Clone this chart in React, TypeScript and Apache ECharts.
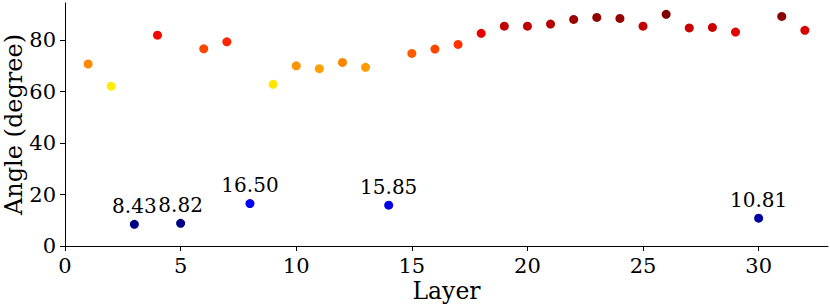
import React, { useEffect, useRef } from "react";
import * as echarts from "echarts";

const layers = [1,2,3,4,5,6,7,8,9,10,11,12,13,14,15,16,17,18,19,20,21,22,23,24,25,26,27,28,29,30,31,32];
const angles = [70.7,62.1,8.43,81.9,8.82,76.6,79.3,16.50,62.8,70.0,68.9,71.3,69.4,15.85,74.8,76.5,78.3,82.6,85.4,85.4,86.2,88.0,88.8,88.4,85.4,90.0,84.7,84.9,83.1,10.81,89.2,83.8];
const xTicks = [0,5,10,15,20,25,30];
const yTicks = [0,20,40,60,80];
const labelThreshold = 20;

const seg = (pts: number[][], t: number) => {
  for (let i = 1; i < pts.length; i++) {
    if (t <= pts[i][0]) {
      const [x0, y0] = pts[i - 1];
      const [x1, y1] = pts[i];
      return y0 + ((t - x0) / (x1 - x0 || 1)) * (y1 - y0);
    }
  }
  return pts[pts.length - 1][1];
};
const jet = (t: number) => {
  const r = seg([[0,0],[0.35,0],[0.66,1],[0.89,1],[1,0.5]], t);
  const g = seg([[0,0],[0.125,0],[0.375,1],[0.64,1],[0.91,0],[1,0]], t);
  const b = seg([[0,0.5],[0.11,1],[0.34,1],[0.65,0],[1,0]], t);
  const h = (v: number) => Math.round(Math.max(0, Math.min(1, v)) * 255);
  return `rgb(${h(r)},${h(g)},${h(b)})`;
};

const FONT = "DejaVu Serif";

export default function App() {
  const ref = useRef<HTMLDivElement>(null);
  useEffect(() => {
    if (!ref.current) return;
    const chart = echarts.init(ref.current, null, { renderer: "svg" });
    const vmin = Math.min(...angles);
    const vmax = Math.max(...angles);
    chart.setOption({
      animation: false,
      grid: { left: 65, right: 2, top: 3, bottom: 59, containLabel: false, outerBoundsMode: "none" },
      xAxis: {
        type: "value",
        min: 0,
        max: 33,
        name: "Layer",
        nameLocation: "middle",
        nameGap: 33,
        nameMoveOverlap: false,
        nameTextStyle: { fontFamily: FONT, fontSize: 23.5, color: "#000" },
        splitLine: { show: false },
        axisLine: { show: true, onZero: false, lineStyle: { color: "#000", width: 1 } },
        axisTick: { show: true, inside: false, length: 5, customValues: xTicks, lineStyle: { color: "#000" } },
        axisLabel: { customValues: xTicks, fontFamily: FONT, fontSize: 21, color: "#000", margin: 9 },
      },
      yAxis: {
        type: "value",
        min: 0,
        max: 94.4,
        name: "Angle (degree)",
        nameLocation: "middle",
        nameGap: 39,
        nameMoveOverlap: false,
        nameRotate: 90,
        nameTextStyle: { fontFamily: FONT, fontSize: 24, color: "#000", lineHeight: 24 },
        splitLine: { show: false },
        axisLine: { show: true, onZero: false, lineStyle: { color: "#000", width: 1 } },
        axisTick: { show: true, inside: false, length: 5, customValues: yTicks, lineStyle: { color: "#000" } },
        axisLabel: { customValues: yTicks, fontFamily: FONT, fontSize: 21, color: "#000", margin: 9 },
      },
      series: [
        {
          type: "scatter",
          symbolSize: 9,
          data: layers.map((l, i) => [l, angles[i]]),
          itemStyle: {
            opacity: 1,
            color: (p: any) => jet((p.value[1] - vmin) / (vmax - vmin)),
          },
          label: {
            show: true,
            position: "top",
            distance: 4,
            fontFamily: FONT,
            fontSize: 20,
            color: "#000",
            formatter: (p: any) => (p.value[1] < labelThreshold ? p.value[1].toFixed(2) : ""),
          },
        },
      ],
    });
    return () => chart.dispose();
  }, []);
  return (
    <div
      ref={ref}
      style={{ position: "fixed", left: 0, top: 0, width: 830, height: 305, background: "#fff" }}
    />
  );
}
